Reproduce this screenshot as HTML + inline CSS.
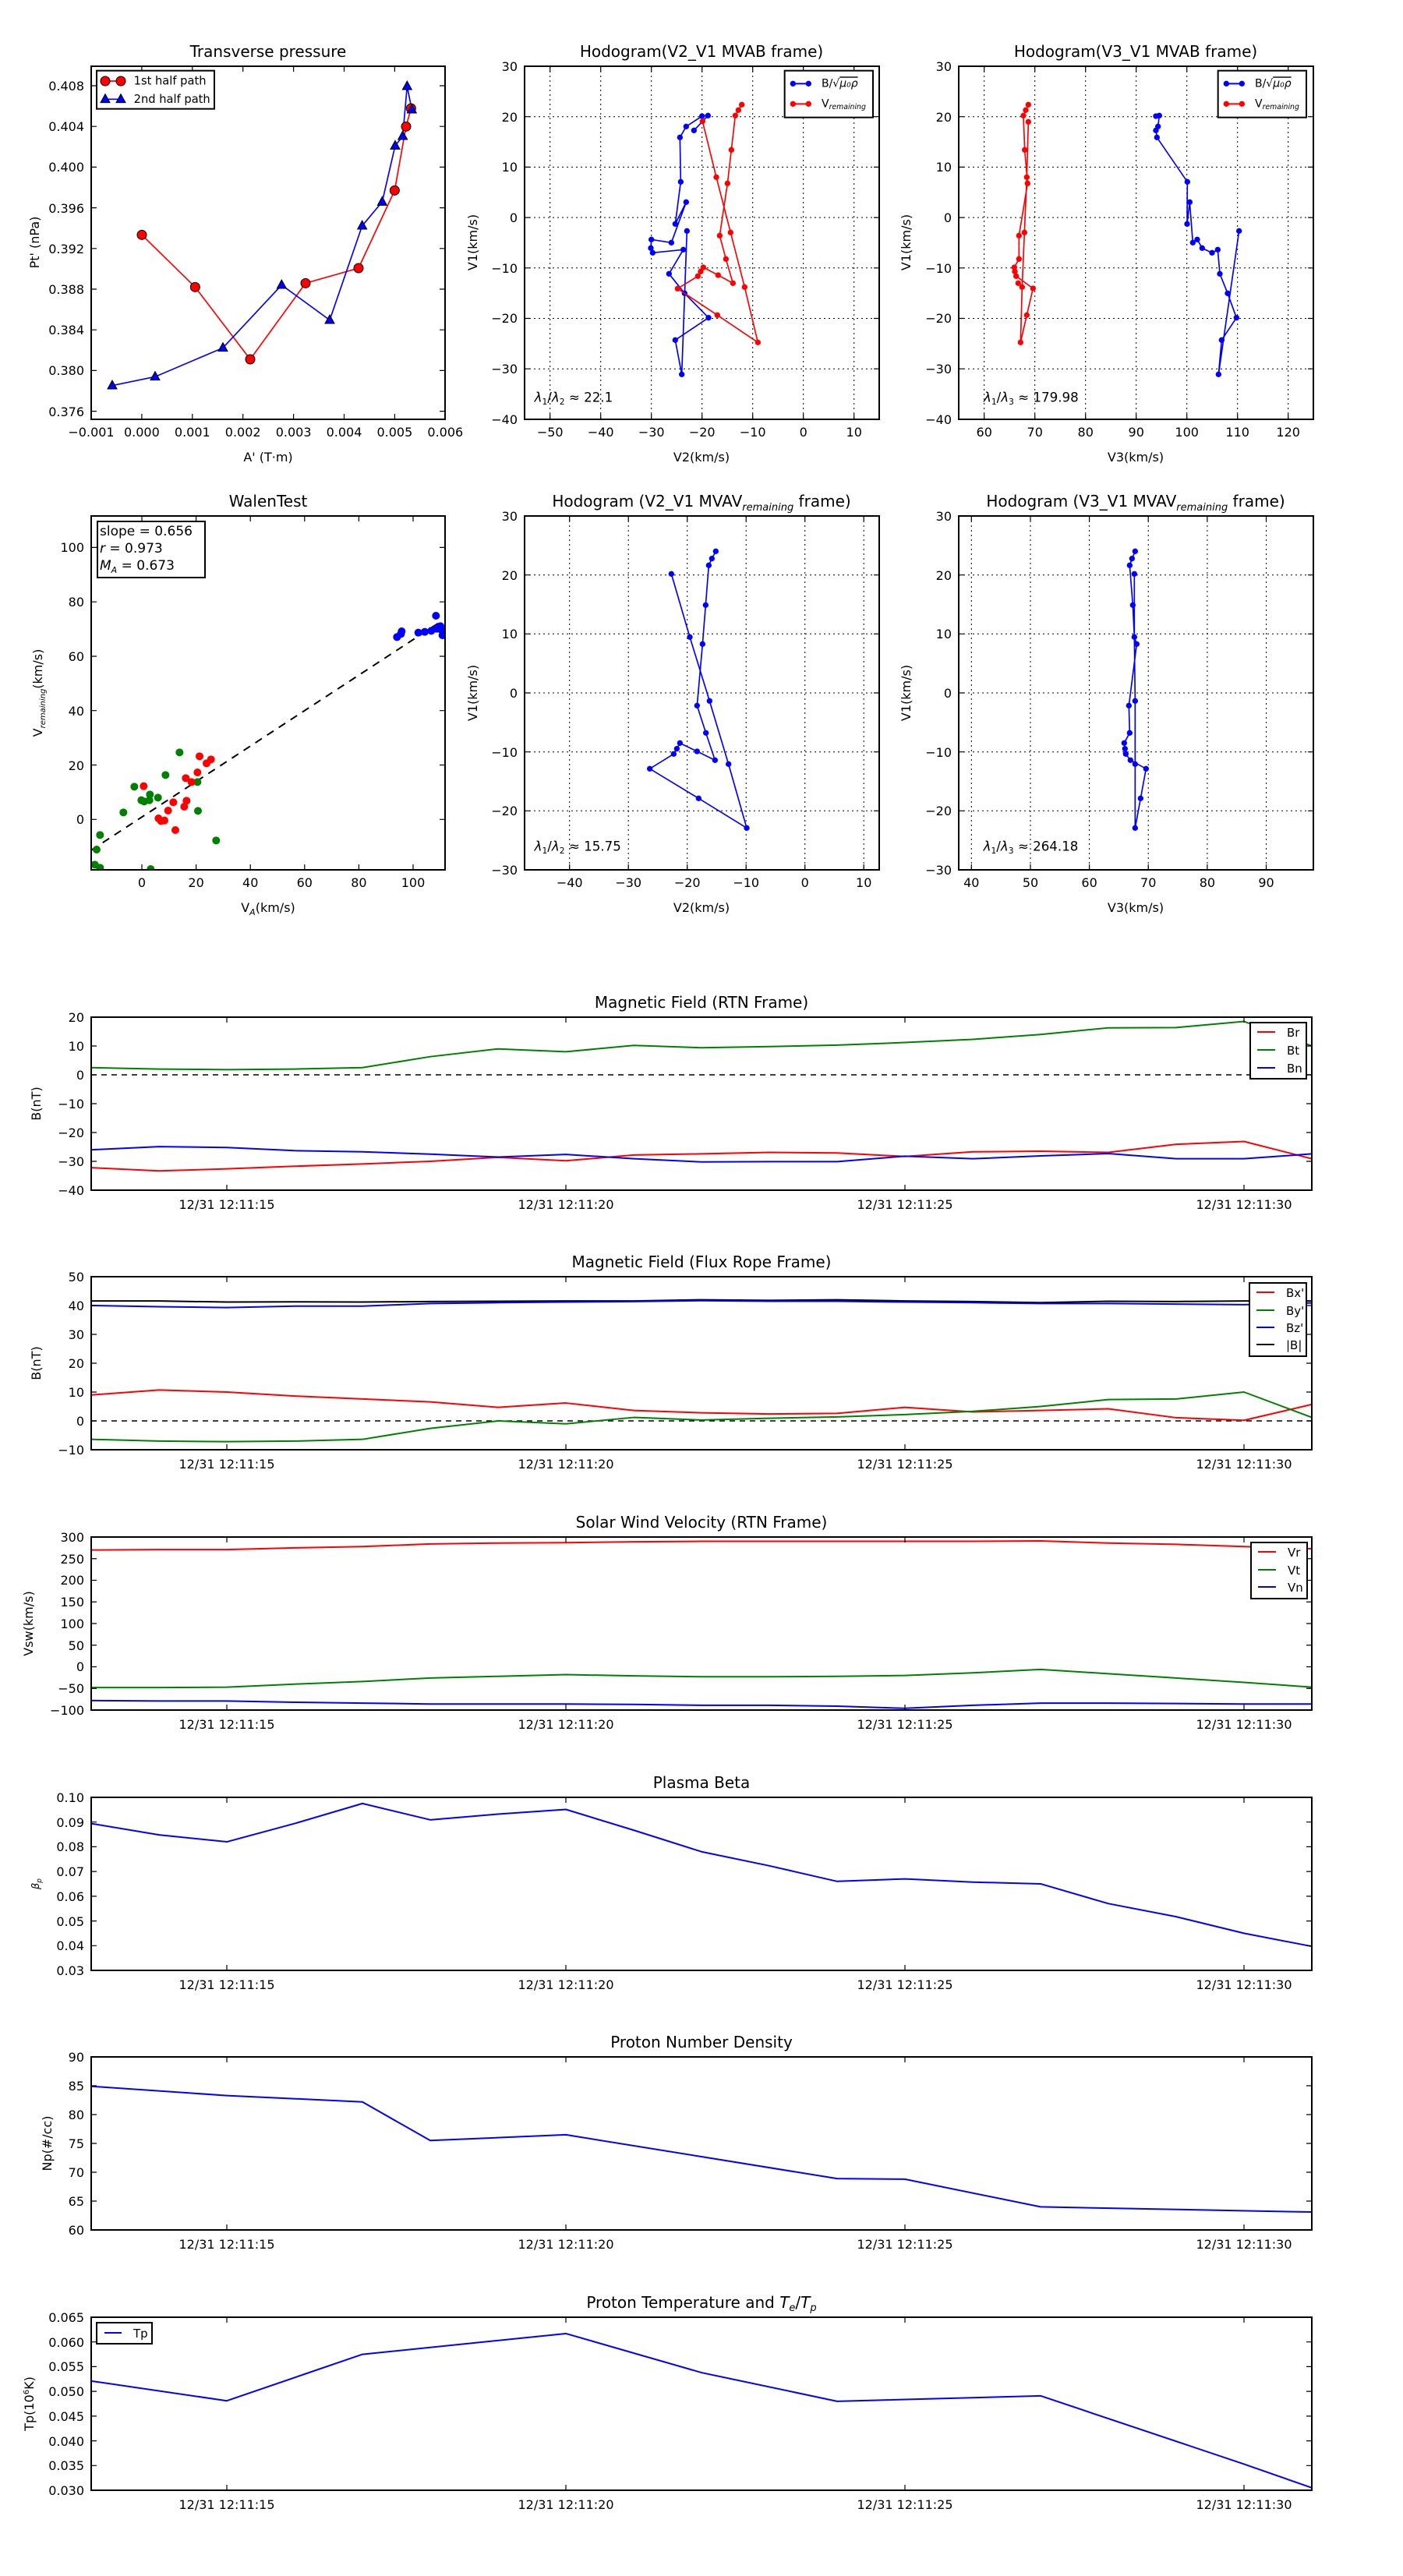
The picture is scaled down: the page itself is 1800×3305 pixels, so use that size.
<!DOCTYPE html>
<html><head><meta charset="utf-8"><style>
html,body{margin:0;padding:0;background:#fff;}
svg text{font-family:"DejaVu Sans","Liberation Sans",sans-serif;fill:#000;}
.t{font-size:16px;}
.ti{font-size:20px;text-anchor:middle;}
.yl{font-size:16px;text-anchor:end;}
.xl{font-size:16px;text-anchor:middle;}
.ln{fill:none;stroke-width:2;vector-effect:non-scaling-stroke;stroke-linejoin:round;}
.grid{stroke:#000;stroke-width:1;stroke-dasharray:2,4;fill:none;}
.ax{fill:none;stroke:#000;stroke-width:2;}
.tk{stroke:#000;stroke-width:1.2;fill:none;}
</style></head><body>
<svg width="1800" height="3300" viewBox="0 0 1800 3300" xmlns="http://www.w3.org/2000/svg">
<rect width="1800" height="3300" fill="#fff"/>

<!-- ============ ROW 1 PLOT 1: Transverse pressure ============ -->
<text class="ti" x="344" y="73">Transverse pressure</text>
<path class="tk" d="M181.9,538v-7M246.8,538v-7M311.7,538v-7M376.6,538v-7M441.5,538v-7M506.4,538v-7M181.9,85v7M246.8,85v7M311.7,85v7M376.6,85v7M441.5,85v7M506.4,85v7
M117,110h7M117,162.2h7M117,214.4h7M117,266.6h7M117,318.8h7M117,371h7M117,423.2h7M117,475.4h7M117,527.6h7
M571,110h-7M571,162.2h-7M571,214.4h-7M571,266.6h-7M571,318.8h-7M571,371h-7M571,423.2h-7M571,475.4h-7M571,527.6h-7"/>
<g class="yl">
<text x="108" y="116">0.408</text><text x="108" y="168">0.404</text><text x="108" y="220">0.400</text><text x="108" y="273">0.396</text><text x="108" y="325">0.392</text><text x="108" y="377">0.388</text><text x="108" y="429">0.384</text><text x="108" y="481">0.380</text><text x="108" y="534">0.376</text>
</g>
<g class="xl">
<text x="117" y="560">−0.001</text><text x="181.9" y="560">0.000</text><text x="246.8" y="560">0.001</text><text x="311.7" y="560">0.002</text><text x="376.6" y="560">0.003</text><text x="441.5" y="560">0.004</text><text x="506.4" y="560">0.005</text><text x="571.3" y="560">0.006</text>
</g>
<text class="xl" x="344" y="592">A' (T·m)</text>
<text class="t" transform="translate(50,311) rotate(-90)" text-anchor="middle">Pt' (nPa)</text>
<defs><path id="tri" d="M0,-20 L-18,13 L18,13Z"/></defs>
<g transform="translate(100,84) scale(0.33333)">
<polyline fill="none" stroke="#f00" stroke-width="5" points="246,652 451,853 663,1131 876,838 1080,780 1219,481 1263,235 1282,165"/>
<polyline fill="none" stroke="#00f" stroke-width="5" points="132,1232 297,1198 558,1087 784,845 969,980 1094,617 1171,525 1221,309 1250,272 1267,80 1285,170"/>
<g fill="#f00" stroke="#000" stroke-width="3">
<circle cx="246" cy="652" r="18"/><circle cx="451" cy="853" r="18"/><circle cx="663" cy="1131" r="18"/><circle cx="876" cy="838" r="18"/><circle cx="1080" cy="780" r="18"/><circle cx="1219" cy="481" r="18"/><circle cx="1263" cy="235" r="18"/><circle cx="1282" cy="165" r="18"/>
</g>
<g fill="#00f" stroke="#000" stroke-width="3">
<use href="#tri" x="132" y="1232"/><use href="#tri" x="297" y="1198"/><use href="#tri" x="558" y="1087"/><use href="#tri" x="784" y="845"/><use href="#tri" x="969" y="980"/><use href="#tri" x="1094" y="617"/><use href="#tri" x="1171" y="525"/><use href="#tri" x="1221" y="309"/><use href="#tri" x="1250" y="272"/><use href="#tri" x="1267" y="80"/><use href="#tri" x="1285" y="170"/>
</g>
<rect x="72" y="20" width="453" height="147" fill="#fff" stroke="#000" stroke-width="6"/>
<line x1="105" y1="60" x2="165" y2="60" stroke="#f00" stroke-width="5"/>
<circle cx="105" cy="60" r="18" fill="#f00" stroke="#000" stroke-width="3"/><circle cx="165" cy="60" r="18" fill="#f00" stroke="#000" stroke-width="3"/>
<line x1="105" y1="130" x2="165" y2="130" stroke="#00f" stroke-width="5"/>
<use href="#tri" x="105" y="130" fill="#00f" stroke="#000" stroke-width="3"/><use href="#tri" x="165" y="130" fill="#00f" stroke="#000" stroke-width="3"/>
<text x="215" y="74" style="font-size:44px">1st half path</text>
<text x="215" y="144" style="font-size:44px">2nd half path</text>
</g>
<rect class="ax" x="117" y="85" width="454" height="453"/>

<!-- ============ ROW 1 PLOT 2 ============ -->
<text class="ti" x="900" y="73">Hodogram(V2_V1 MVAB frame)</text>
<path class="grid" d="M705.7,85V538M770.7,85V538M835.7,85V538M900.7,85V538M965.7,85V538M1030.7,85V538M1095.7,85V538M673,149.7H1128M673,214.4H1128M673,279.1H1128M673,343.8H1128M673,408.5H1128M673,473.2H1128"/>
<path class="tk" d="M705.7,538v-7M770.7,538v-7M835.7,538v-7M900.7,538v-7M965.7,538v-7M1030.7,538v-7M1095.7,538v-7M705.7,85v7M770.7,85v7M835.7,85v7M900.7,85v7M965.7,85v7M1030.7,85v7M1095.7,85v7
M673,149.7h7M673,214.4h7M673,279.1h7M673,343.8h7M673,408.5h7M673,473.2h7M1128,149.7h-7M1128,214.4h-7M1128,279.1h-7M1128,343.8h-7M1128,408.5h-7M1128,473.2h-7"/>
<g class="yl">
<text x="664" y="91">30</text><text x="664" y="156">20</text><text x="664" y="220">10</text><text x="664" y="285">0</text><text x="664" y="350">−10</text><text x="664" y="414">−20</text><text x="664" y="479">−30</text><text x="664" y="544">−40</text>
</g>
<g class="xl">
<text x="705.7" y="560">−50</text><text x="770.7" y="560">−40</text><text x="835.7" y="560">−30</text><text x="900.7" y="560">−20</text><text x="965.7" y="560">−10</text><text x="1030.7" y="560">0</text><text x="1095.7" y="560">10</text>
</g>
<text class="xl" x="900" y="592">V2(km/s)</text>
<text class="t" transform="translate(612,311) rotate(-90)" text-anchor="middle">V1(km/s)</text>
<g transform="translate(679,84) scale(0.33333)">
<polyline fill="none" stroke="#00f" stroke-width="5" stroke-linejoin="round" points="634,250 688,193 665,195 604,235 580,277 583,448 562,610 604,526 547,682 470,670 468,703 475,721 593,709 538,802 598,877 690,971 562,1057 587,1189 607,637"/>
<g fill="#00f"><circle cx="634" cy="250" r="11"/><circle cx="688" cy="193" r="11"/><circle cx="665" cy="195" r="11"/><circle cx="604" cy="235" r="11"/><circle cx="580" cy="277" r="11"/><circle cx="583" cy="448" r="11"/><circle cx="562" cy="610" r="11"/><circle cx="604" cy="526" r="11"/><circle cx="547" cy="682" r="11"/><circle cx="470" cy="670" r="11"/><circle cx="468" cy="703" r="11"/><circle cx="475" cy="721" r="11"/><circle cx="593" cy="709" r="11"/><circle cx="538" cy="802" r="11"/><circle cx="598" cy="877" r="11"/><circle cx="690" cy="971" r="11"/><circle cx="562" cy="1057" r="11"/><circle cx="587" cy="1189" r="11"/><circle cx="607" cy="637" r="11"/></g>
<polyline fill="none" stroke="#f00" stroke-width="5" stroke-linejoin="round" points="818,151 805,172 793,193 778,325 763,454 733,655 757,745 784,838 727,807 670,777 660,793 649,811 571,859 724,961 880,1066 829,853 775,643 720,430 667,215"/>
<g fill="#f00"><circle cx="818" cy="151" r="11"/><circle cx="805" cy="172" r="11"/><circle cx="793" cy="193" r="11"/><circle cx="778" cy="325" r="11"/><circle cx="763" cy="454" r="11"/><circle cx="733" cy="655" r="11"/><circle cx="757" cy="745" r="11"/><circle cx="784" cy="838" r="11"/><circle cx="727" cy="807" r="11"/><circle cx="670" cy="777" r="11"/><circle cx="660" cy="793" r="11"/><circle cx="649" cy="811" r="11"/><circle cx="571" cy="859" r="11"/><circle cx="724" cy="961" r="11"/><circle cx="880" cy="1066" r="11"/><circle cx="829" cy="853" r="11"/><circle cx="775" cy="643" r="11"/><circle cx="720" cy="430" r="11"/><circle cx="667" cy="215" r="11"/></g>
<rect x="983" y="20" width="340" height="180" fill="#fff" stroke="#000" stroke-width="6"/>
<line x1="1015" y1="70" x2="1075" y2="70" stroke="#00f" stroke-width="6"/><circle cx="1015" cy="70" r="11" fill="#00f"/><circle cx="1075" cy="70" r="11" fill="#00f"/>
<line x1="1015" y1="148" x2="1075" y2="148" stroke="#f00" stroke-width="6"/><circle cx="1015" cy="148" r="11" fill="#f00"/><circle cx="1075" cy="148" r="11" fill="#f00"/>
<text x="1125" y="82" style="font-size:42px">B/√<tspan font-style="italic" text-decoration="overline">μ₀ρ</tspan></text>
<text x="1125" y="160" style="font-size:42px">V<tspan font-style="italic" style="font-size:28px" dy="8">remaining</tspan></text>
<text x="20" y="1295" style="font-size:50px"><tspan font-style="italic">λ</tspan><tspan style="font-size:32px" dy="10">1</tspan><tspan dy="-10">/</tspan><tspan font-style="italic">λ</tspan><tspan style="font-size:32px" dy="10">2</tspan><tspan dy="-10"> ≈ 22.1</tspan></text>
</g>
<rect class="ax" x="673" y="85" width="455" height="453"/>

<!-- ============ ROW 1 PLOT 3 ============ -->
<text class="ti" x="1457" y="73">Hodogram(V3_V1 MVAB frame)</text>
<path class="grid" d="M1262.7,85V538M1327.7,85V538M1392.7,85V538M1457.7,85V538M1522.7,85V538M1587.7,85V538M1652.7,85V538M1230,149.7H1685M1230,214.4H1685M1230,279.1H1685M1230,343.8H1685M1230,408.5H1685M1230,473.2H1685"/>
<path class="tk" d="M1262.7,538v-7M1327.7,538v-7M1392.7,538v-7M1457.7,538v-7M1522.7,538v-7M1587.7,538v-7M1652.7,538v-7M1262.7,85v7M1327.7,85v7M1392.7,85v7M1457.7,85v7M1522.7,85v7M1587.7,85v7M1652.7,85v7
M1230,149.7h7M1230,214.4h7M1230,279.1h7M1230,343.8h7M1230,408.5h7M1230,473.2h7M1685,149.7h-7M1685,214.4h-7M1685,279.1h-7M1685,343.8h-7M1685,408.5h-7M1685,473.2h-7"/>
<g class="yl">
<text x="1221" y="91">30</text><text x="1221" y="156">20</text><text x="1221" y="220">10</text><text x="1221" y="285">0</text><text x="1221" y="350">−10</text><text x="1221" y="414">−20</text><text x="1221" y="479">−30</text><text x="1221" y="544">−40</text>
</g>
<g class="xl">
<text x="1262.7" y="560">60</text><text x="1327.7" y="560">70</text><text x="1392.7" y="560">80</text><text x="1457.7" y="560">90</text><text x="1522.7" y="560">100</text><text x="1587.7" y="560">110</text><text x="1652.7" y="560">120</text>
</g>
<text class="xl" x="1457" y="592">V3(km/s)</text>
<text class="t" transform="translate(1168,311) rotate(-90)" text-anchor="middle">V1(km/s)</text>
<g transform="translate(1242,84) scale(0.33333)">
<polyline fill="none" stroke="#f00" stroke-width="5" stroke-linejoin="round" points="232,151 222,172 213,193 218,325 229,454 196,655 196,745 178,777 180,793 185,811 250,858 226,961 202,1066 208,853 217,643 226,430 232,217"/>
<g fill="#f00"><circle cx="232" cy="151" r="11"/><circle cx="222" cy="172" r="11"/><circle cx="213" cy="193" r="11"/><circle cx="218" cy="325" r="11"/><circle cx="229" cy="454" r="11"/><circle cx="196" cy="655" r="11"/><circle cx="196" cy="745" r="11"/><circle cx="178" cy="777" r="11"/><circle cx="180" cy="793" r="11"/><circle cx="185" cy="811" r="11"/><circle cx="193" cy="838" r="11"/><circle cx="250" cy="858" r="11"/><circle cx="226" cy="961" r="11"/><circle cx="202" cy="1066" r="11"/><circle cx="208" cy="853" r="11"/><circle cx="217" cy="643" r="11"/><circle cx="226" cy="430" r="11"/><circle cx="232" cy="217" r="11"/></g>
<polyline fill="none" stroke="#00f" stroke-width="5" stroke-linejoin="round" points="723,195 736,193 731,235 723,250 727,277 844,448 843,610 853,526 865,682 882,670 901,703 939,721 961,709 969,802 999,877 1033,971 976,1057 964,1189 1043,637"/>
<g fill="#00f"><circle cx="723" cy="195" r="11"/><circle cx="736" cy="193" r="11"/><circle cx="731" cy="235" r="11"/><circle cx="723" cy="250" r="11"/><circle cx="727" cy="277" r="11"/><circle cx="844" cy="448" r="11"/><circle cx="843" cy="610" r="11"/><circle cx="853" cy="526" r="11"/><circle cx="865" cy="682" r="11"/><circle cx="882" cy="670" r="11"/><circle cx="901" cy="703" r="11"/><circle cx="939" cy="721" r="11"/><circle cx="961" cy="709" r="11"/><circle cx="969" cy="802" r="11"/><circle cx="999" cy="877" r="11"/><circle cx="1033" cy="971" r="11"/><circle cx="976" cy="1057" r="11"/><circle cx="964" cy="1189" r="11"/><circle cx="1043" cy="637" r="11"/></g>
<rect x="962" y="20" width="340" height="180" fill="#fff" stroke="#000" stroke-width="6"/>
<line x1="994" y1="70" x2="1054" y2="70" stroke="#00f" stroke-width="6"/><circle cx="994" cy="70" r="11" fill="#00f"/><circle cx="1054" cy="70" r="11" fill="#00f"/>
<line x1="994" y1="148" x2="1054" y2="148" stroke="#f00" stroke-width="6"/><circle cx="994" cy="148" r="11" fill="#f00"/><circle cx="1054" cy="148" r="11" fill="#f00"/>
<text x="1104" y="82" style="font-size:42px">B/√<tspan font-style="italic" text-decoration="overline">μ₀ρ</tspan></text>
<text x="1104" y="160" style="font-size:42px">V<tspan font-style="italic" style="font-size:28px" dy="8">remaining</tspan></text>
<text x="60" y="1295" style="font-size:50px"><tspan font-style="italic">λ</tspan><tspan style="font-size:32px" dy="10">1</tspan><tspan dy="-10">/</tspan><tspan font-style="italic">λ</tspan><tspan style="font-size:32px" dy="10">3</tspan><tspan dy="-10"> ≈ 179.98</tspan></text>
</g>
<rect class="ax" x="1230" y="85" width="455" height="453"/>

<!-- ============ ROW 2 PLOT 1: Walen ============ -->
<text class="ti" x="344" y="650">WalenTest</text>
<path class="tk" d="M182,1116v-7M251.6,1116v-7M321.2,1116v-7M390.8,1116v-7M460.4,1116v-7M530,1116v-7M182,662v7M251.6,662v7M321.2,662v7M390.8,662v7M460.4,662v7M530,662v7
M117,1051.3h7M117,981.5h7M117,911.7h7M117,842h7M117,772.2h7M117,702.4h7M571,1051.3h-7M571,981.5h-7M571,911.7h-7M571,842h-7M571,772.2h-7M571,702.4h-7"/>
<g class="yl">
<text x="108" y="1057">0</text><text x="108" y="988">20</text><text x="108" y="918">40</text><text x="108" y="848">60</text><text x="108" y="778">80</text><text x="108" y="708">100</text>
</g>
<g class="xl">
<text x="182" y="1138">0</text><text x="251.6" y="1138">20</text><text x="321.2" y="1138">40</text><text x="390.8" y="1138">60</text><text x="460.4" y="1138">80</text><text x="530" y="1138">100</text>
</g>
<text class="xl" x="344" y="1170">V<tspan font-style="italic" style="font-size:11px" dy="4">A</tspan><tspan dy="-4">(km/s)</tspan></text>
<text class="t" transform="translate(54,889) rotate(-90)" text-anchor="middle">V<tspan font-style="italic" style="font-size:10px" dy="4">remaining</tspan><tspan dy="-4">(km/s)</tspan></text>
<svg x="117" y="662" width="454" height="454" overflow="hidden">
<g transform="translate(-17,-2) scale(0.33333)">
<line x1="50" y1="1293" x2="1400" y2="410" stroke="#000" stroke-width="6" stroke-dasharray="30,24"/>
<g fill="#008000"><circle cx="85" cy="1234" r="15"/><circle cx="72" cy="1290" r="15"/><circle cx="65" cy="1348" r="15"/><circle cx="85" cy="1360" r="15"/><circle cx="280" cy="1365" r="15"/><circle cx="175" cy="1147" r="15"/><circle cx="217" cy="1048" r="15"/><circle cx="244" cy="1100" r="15"/><circle cx="255" cy="1105" r="15"/><circle cx="277" cy="1078" r="15"/><circle cx="275" cy="1100" r="15"/><circle cx="308" cy="1090" r="15"/><circle cx="337" cy="1003" r="15"/><circle cx="391" cy="916" r="15"/><circle cx="460" cy="1030" r="15"/><circle cx="462" cy="1141" r="15"/><circle cx="532" cy="1255" r="15"/></g>
<g fill="#f00"><circle cx="253" cy="1046" r="15"/><circle cx="310" cy="1170" r="15"/><circle cx="320" cy="1180" r="15"/><circle cx="333" cy="1178" r="15"/><circle cx="347" cy="1140" r="15"/><circle cx="367" cy="1108" r="15"/><circle cx="375" cy="1215" r="15"/><circle cx="409" cy="1125" r="15"/><circle cx="418" cy="1102" r="15"/><circle cx="415" cy="1015" r="15"/><circle cx="437" cy="1030" r="15"/><circle cx="460" cy="993" r="15"/><circle cx="468" cy="931" r="15"/><circle cx="495" cy="958" r="15"/><circle cx="512" cy="943" r="15"/></g>
<g fill="#00f"><circle cx="1228" cy="472" r="15"/><circle cx="1243" cy="460" r="15"/><circle cx="1246" cy="450" r="15"/><circle cx="1310" cy="455" r="15"/><circle cx="1335" cy="452" r="15"/><circle cx="1360" cy="448" r="15"/><circle cx="1378" cy="390" r="15"/><circle cx="1380" cy="440" r="15"/><circle cx="1395" cy="430" r="15"/><circle cx="1403" cy="465" r="15"/><circle cx="1400" cy="445" r="15"/></g>
</g>
</svg>
<rect x="125" y="669" width="138" height="72" fill="#fff" stroke="#000" stroke-width="2"/>
<text x="128" y="687" style="font-size:17px">slope = 0.656</text>
<text x="128" y="709" style="font-size:17px"><tspan font-style="italic">r</tspan> = 0.973</text>
<text x="128" y="731" style="font-size:17px"><tspan font-style="italic">M</tspan><tspan font-style="italic" style="font-size:11px" dy="4">A</tspan><tspan dy="-4"> = 0.673</tspan></text>
<rect class="ax" x="117" y="662" width="454" height="454"/>

<!-- ============ ROW 2 PLOT 2 ============ -->
<text class="ti" x="900" y="650">Hodogram (V2_V1 MVAV<tspan font-style="italic" style="font-size:13px" dy="5">remaining</tspan><tspan dy="-5"> frame)</tspan></text>
<path class="grid" d="M730.7,662V1116M806.2,662V1116M881.7,662V1116M957.2,662V1116M1032.7,662V1116M1108.2,662V1116M673,737.7H1128M673,813.3H1128M673,889H1128M673,964.7H1128M673,1040.3H1128"/>
<path class="tk" d="M730.7,1116v-7M806.2,1116v-7M881.7,1116v-7M957.2,1116v-7M1032.7,1116v-7M1108.2,1116v-7M730.7,662v7M806.2,662v7M881.7,662v7M957.2,662v7M1032.7,662v7M1108.2,662v7
M673,737.7h7M673,813.3h7M673,889h7M673,964.7h7M673,1040.3h7M1128,737.7h-7M1128,813.3h-7M1128,889h-7M1128,964.7h-7M1128,1040.3h-7"/>
<g class="yl">
<text x="664" y="668">30</text><text x="664" y="744">20</text><text x="664" y="819">10</text><text x="664" y="895">0</text><text x="664" y="971">−10</text><text x="664" y="1046">−20</text><text x="664" y="1122">−30</text>
</g>
<g class="xl">
<text x="730.7" y="1138">−40</text><text x="806.2" y="1138">−30</text><text x="881.7" y="1138">−20</text><text x="957.2" y="1138">−10</text><text x="1032.7" y="1138">0</text><text x="1108.2" y="1138">10</text>
</g>
<text class="xl" x="900" y="1170">V2(km/s)</text>
<text class="t" transform="translate(612,889) rotate(-90)" text-anchor="middle">V1(km/s)</text>
<g transform="translate(673,660) scale(0.33333)">
<polyline fill="none" stroke="#00f" stroke-width="5" stroke-linejoin="round" points="565,229 636,472 712,718 785,961 855,1207 670,1093 482,979 574,922 586,902 598,880 664,912 733,946 698,841 664,736 685,499 697,349 709,196 721,170 736,142"/>
<g fill="#00f"><circle cx="565" cy="229" r="11"/><circle cx="636" cy="472" r="11"/><circle cx="712" cy="718" r="11"/><circle cx="785" cy="961" r="11"/><circle cx="855" cy="1207" r="11"/><circle cx="670" cy="1093" r="11"/><circle cx="482" cy="979" r="11"/><circle cx="574" cy="922" r="11"/><circle cx="586" cy="902" r="11"/><circle cx="598" cy="880" r="11"/><circle cx="664" cy="912" r="11"/><circle cx="733" cy="946" r="11"/><circle cx="698" cy="841" r="11"/><circle cx="664" cy="736" r="11"/><circle cx="685" cy="499" r="11"/><circle cx="697" cy="349" r="11"/><circle cx="709" cy="196" r="11"/><circle cx="721" cy="170" r="11"/><circle cx="736" cy="142" r="11"/></g>
<text x="38" y="1295" style="font-size:50px"><tspan font-style="italic">λ</tspan><tspan style="font-size:32px" dy="10">1</tspan><tspan dy="-10">/</tspan><tspan font-style="italic">λ</tspan><tspan style="font-size:32px" dy="10">2</tspan><tspan dy="-10"> ≈ 15.75</tspan></text>
</g>
<rect class="ax" x="673" y="662" width="455" height="454"/>

<!-- ============ ROW 2 PLOT 3 ============ -->
<text class="ti" x="1457" y="650">Hodogram (V3_V1 MVAV<tspan font-style="italic" style="font-size:13px" dy="5">remaining</tspan><tspan dy="-5"> frame)</tspan></text>
<path class="grid" d="M1246.3,662V1116M1322,662V1116M1397.6,662V1116M1473.2,662V1116M1548.9,662V1116M1624.5,662V1116M1230,737.7H1685M1230,813.3H1685M1230,889H1685M1230,964.7H1685M1230,1040.3H1685"/>
<path class="tk" d="M1246.3,1116v-7M1322,1116v-7M1397.6,1116v-7M1473.2,1116v-7M1548.9,1116v-7M1624.5,1116v-7M1246.3,662v7M1322,662v7M1397.6,662v7M1473.2,662v7M1548.9,662v7M1624.5,662v7
M1230,737.7h7M1230,813.3h7M1230,889h7M1230,964.7h7M1230,1040.3h7M1685,737.7h-7M1685,813.3h-7M1685,889h-7M1685,964.7h-7M1685,1040.3h-7"/>
<g class="yl">
<text x="1221" y="668">30</text><text x="1221" y="744">20</text><text x="1221" y="819">10</text><text x="1221" y="895">0</text><text x="1221" y="971">−10</text><text x="1221" y="1046">−20</text><text x="1221" y="1122">−30</text>
</g>
<g class="xl">
<text x="1246.3" y="1138">40</text><text x="1322" y="1138">50</text><text x="1397.6" y="1138">60</text><text x="1473.2" y="1138">70</text><text x="1548.9" y="1138">80</text><text x="1624.5" y="1138">90</text>
</g>
<text class="xl" x="1457" y="1170">V3(km/s)</text>
<text class="t" transform="translate(1168,889) rotate(-90)" text-anchor="middle">V1(km/s)</text>
<g transform="translate(1230,660) scale(0.33333)">
<polyline fill="none" stroke="#00f" stroke-width="5" stroke-linejoin="round" points="679,142 667,170 658,196 670,349 676,472 685,499 655,736 658,841 637,880 640,902 643,922 661,946 721,979 700,1093 679,1207 679,961 679,718 676,472 676,229"/>
<g fill="#00f"><circle cx="679" cy="142" r="11"/><circle cx="667" cy="170" r="11"/><circle cx="658" cy="196" r="11"/><circle cx="676" cy="229" r="11"/><circle cx="670" cy="349" r="11"/><circle cx="676" cy="472" r="11"/><circle cx="685" cy="499" r="11"/><circle cx="655" cy="736" r="11"/><circle cx="679" cy="718" r="11"/><circle cx="658" cy="841" r="11"/><circle cx="637" cy="880" r="11"/><circle cx="640" cy="902" r="11"/><circle cx="643" cy="922" r="11"/><circle cx="661" cy="946" r="11"/><circle cx="679" cy="961" r="11"/><circle cx="721" cy="979" r="11"/><circle cx="700" cy="1093" r="11"/><circle cx="679" cy="1207" r="11"/></g>
<text x="95" y="1295" style="font-size:50px"><tspan font-style="italic">λ</tspan><tspan style="font-size:32px" dy="10">1</tspan><tspan dy="-10">/</tspan><tspan font-style="italic">λ</tspan><tspan style="font-size:32px" dy="10">3</tspan><tspan dy="-10"> ≈ 264.18</tspan></text>
</g>
<rect class="ax" x="1230" y="662" width="455" height="454"/>

<!-- ============ TIME SERIES ============ -->
<!-- common x tick labels -->
<g class="xl">
<text x="291" y="1551">12/31 12:11:15</text><text x="726" y="1551">12/31 12:11:20</text><text x="1161" y="1551">12/31 12:11:25</text><text x="1596" y="1551">12/31 12:11:30</text>
<text x="291" y="1884">12/31 12:11:15</text><text x="726" y="1884">12/31 12:11:20</text><text x="1161" y="1884">12/31 12:11:25</text><text x="1596" y="1884">12/31 12:11:30</text>
<text x="291" y="2218">12/31 12:11:15</text><text x="726" y="2218">12/31 12:11:20</text><text x="1161" y="2218">12/31 12:11:25</text><text x="1596" y="2218">12/31 12:11:30</text>
<text x="291" y="2552">12/31 12:11:15</text><text x="726" y="2552">12/31 12:11:20</text><text x="1161" y="2552">12/31 12:11:25</text><text x="1596" y="2552">12/31 12:11:30</text>
<text x="291" y="2885">12/31 12:11:15</text><text x="726" y="2885">12/31 12:11:20</text><text x="1161" y="2885">12/31 12:11:25</text><text x="1596" y="2885">12/31 12:11:30</text>
<text x="291" y="3219">12/31 12:11:15</text><text x="726" y="3219">12/31 12:11:20</text><text x="1161" y="3219">12/31 12:11:25</text><text x="1596" y="3219">12/31 12:11:30</text>
</g>

<!-- Panel 1: MF RTN -->
<text class="ti" x="900" y="1293">Magnetic Field (RTN Frame)</text>
<line x1="117" y1="1379" x2="1683" y2="1379" stroke="#000" stroke-width="1.5" stroke-dasharray="7,6"/>
<g transform="translate(117,1379) scale(87,-3.7)">
<polyline class="ln" stroke="#f00" points="0,-32.2 1,-33.3 2,-32.6 3,-31.7 4,-30.9 5,-30 6,-28.6 7,-29.8 8,-27.8 9,-27.4 10,-26.9 11,-27.1 12,-28.3 13,-26.7 14,-26.5 15,-26.9 16,-24.1 17,-23.1 18,-29.1"/>
<polyline class="ln" stroke="#008000" points="0,2.5 1,2 2,1.8 3,2 4,2.5 5,6.3 6,9 7,8 8,10.2 9,9.4 10,9.8 11,10.3 12,11.2 13,12.3 14,14 15,16.3 16,16.4 17,18.5 18,10"/>
<polyline class="ln" stroke="#00f" points="0,-26 1,-24.9 2,-25.2 3,-26.3 4,-26.7 5,-27.5 6,-28.5 7,-27.6 8,-29.1 9,-30.2 10,-30.1 11,-30.1 12,-28.2 13,-29.1 14,-28.1 15,-27.3 16,-29.1 17,-29.1 18,-27.4"/>
</g>
<path class="tk" d="M291,1527v-7M726,1527v-7M1161,1527v-7M1596,1527v-7M291,1305v7M726,1305v7M1161,1305v7M1596,1305v7
M117,1342h7M117,1379h7M117,1416h7M117,1453h7M117,1490h7M1683,1342h-7M1683,1379h-7M1683,1416h-7M1683,1453h-7M1683,1490h-7"/>
<g class="yl"><text x="108" y="1311">20</text><text x="108" y="1348">10</text><text x="108" y="1385">0</text><text x="108" y="1422">−10</text><text x="108" y="1459">−20</text><text x="108" y="1496">−30</text><text x="108" y="1533">−40</text></g>
<text class="t" transform="translate(52,1416) rotate(-90)" text-anchor="middle">B(nT)</text>
<rect x="1604" y="1312" width="72" height="72" fill="#fff" stroke="#000" stroke-width="2"/>
<line x1="1613" y1="1324" x2="1636" y2="1324" stroke="#f00" stroke-width="2"/><text x="1651" y="1330" style="font-size:15px">Br</text>
<line x1="1613" y1="1347" x2="1636" y2="1347" stroke="#008000" stroke-width="2"/><text x="1651" y="1353" style="font-size:15px">Bt</text>
<line x1="1613" y1="1370" x2="1636" y2="1370" stroke="#00f" stroke-width="2"/><text x="1651" y="1376" style="font-size:15px">Bn</text>
<rect class="ax" x="117" y="1305" width="1566" height="222"/>

<!-- Panel 2: Flux rope -->
<text class="ti" x="900" y="1626">Magnetic Field (Flux Rope Frame)</text>
<line x1="117" y1="1823" x2="1683" y2="1823" stroke="#000" stroke-width="1.5" stroke-dasharray="7,6"/>
<g transform="translate(117,1823) scale(87,-3.7)">
<polyline class="ln" stroke="#000" points="0,41.6 1,41.6 2,41.2 3,41.3 4,41.2 5,41.4 6,41.5 7,41.6 8,41.6 9,42 10,41.8 11,42 12,41.6 13,41.4 14,41 15,41.5 16,41.4 17,41.6 18,41.6"/>
<polyline class="ln" stroke="#00f" points="0,40 1,39.6 2,39.3 3,39.8 4,39.8 5,40.7 6,41 7,41.2 8,41.4 9,41.7 10,41.5 11,41.5 12,41.2 13,41 14,40.7 15,40.7 16,40.5 17,40.3 18,40.9"/>
<polyline class="ln" stroke="#f00" points="0,9 1,10.7 2,10 3,8.6 4,7.6 5,6.6 6,4.7 7,6.2 8,3.6 9,2.8 10,2.4 11,2.6 12,4.7 13,3.1 14,3.6 15,4.2 16,1.1 17,0.2 18,5.7"/>
<polyline class="ln" stroke="#008000" points="0,-6.4 1,-7 2,-7.2 3,-7 4,-6.4 5,-2.6 6,0 7,-1 8,1.2 9,0.3 10,0.9 11,1.4 12,2.2 13,3.3 14,5 15,7.4 16,7.6 17,10 18,1.2"/>
</g>
<path class="tk" d="M291,1860v-7M726,1860v-7M1161,1860v-7M1596,1860v-7M291,1638v7M726,1638v7M1161,1638v7M1596,1638v7
M117,1675h7M117,1712h7M117,1749h7M117,1786h7M117,1823h7M1683,1675h-7M1683,1712h-7M1683,1749h-7M1683,1786h-7M1683,1823h-7"/>
<g class="yl"><text x="108" y="1644">50</text><text x="108" y="1681">40</text><text x="108" y="1718">30</text><text x="108" y="1755">20</text><text x="108" y="1792">10</text><text x="108" y="1829">0</text><text x="108" y="1866">−10</text></g>
<text class="t" transform="translate(52,1749) rotate(-90)" text-anchor="middle">B(nT)</text>
<rect x="1603" y="1646" width="73" height="94" fill="#fff" stroke="#000" stroke-width="2"/>
<line x1="1612" y1="1658" x2="1635" y2="1658" stroke="#f00" stroke-width="2"/><text x="1650" y="1664" style="font-size:15px">Bx'</text>
<line x1="1612" y1="1681" x2="1635" y2="1681" stroke="#008000" stroke-width="2"/><text x="1650" y="1687" style="font-size:15px">By'</text>
<line x1="1612" y1="1703" x2="1635" y2="1703" stroke="#00f" stroke-width="2"/><text x="1650" y="1709" style="font-size:15px">Bz'</text>
<line x1="1612" y1="1725" x2="1635" y2="1725" stroke="#000" stroke-width="2"/><text x="1650" y="1731" style="font-size:15px">|B|</text>
<rect class="ax" x="117" y="1638" width="1566" height="222"/>

<!-- Panel 3: Velocity -->
<text class="ti" x="900" y="1960">Solar Wind Velocity (RTN Frame)</text>
<g transform="translate(117,2138.5) scale(87,-0.555)">
<polyline class="ln" stroke="#f00" points="0,270 1,271 2,271 3,275 4,278 5,284 6,286 7,287 8,289 9,290 10,290 11,290 12,290 13,290 14,291 15,286 16,283 17,278 18,273"/>
<polyline class="ln" stroke="#008000" points="0,-48 1,-48 2,-47 3,-40 4,-34 5,-26 6,-22 7,-18 8,-21 9,-23 10,-23 11,-22 12,-20 13,-14 14,-6 15,-16 16,-26 17,-36 18,-47"/>
<polyline class="ln" stroke="#00f" points="0,-78 1,-79 2,-79 3,-82 4,-84 5,-86 6,-86 7,-86 8,-87 9,-89 10,-89 11,-91 12,-96 13,-89 14,-84 15,-84 16,-85 17,-86 18,-86"/>
</g>
<path class="tk" d="M291,2194v-7M726,2194v-7M1161,2194v-7M1596,2194v-7M291,1972v7M726,1972v7M1161,1972v7M1596,1972v7
M117,1999.75h7M117,2027.5h7M117,2055.25h7M117,2083h7M117,2110.75h7M117,2138.5h7M117,2166.25h7M1683,1999.75h-7M1683,2027.5h-7M1683,2055.25h-7M1683,2083h-7M1683,2110.75h-7M1683,2138.5h-7M1683,2166.25h-7"/>
<g class="yl"><text x="108" y="1978">300</text><text x="108" y="2006">250</text><text x="108" y="2033">200</text><text x="108" y="2061">150</text><text x="108" y="2089">100</text><text x="108" y="2117">50</text><text x="108" y="2144">0</text><text x="108" y="2172">−50</text><text x="108" y="2200">−100</text></g>
<text class="t" transform="translate(42,2083) rotate(-90)" text-anchor="middle">Vsw(km/s)</text>
<rect x="1605" y="1979" width="72" height="72" fill="#fff" stroke="#000" stroke-width="2"/>
<line x1="1614" y1="1991" x2="1637" y2="1991" stroke="#f00" stroke-width="2"/><text x="1652" y="1997" style="font-size:15px">Vr</text>
<line x1="1614" y1="2014" x2="1637" y2="2014" stroke="#008000" stroke-width="2"/><text x="1652" y="2020" style="font-size:15px">Vt</text>
<line x1="1614" y1="2036" x2="1637" y2="2036" stroke="#00f" stroke-width="2"/><text x="1652" y="2042" style="font-size:15px">Vn</text>
<rect class="ax" x="117" y="1972" width="1566" height="222"/>

<!-- Panel 4: Beta -->
<text class="ti" x="900" y="2294">Plasma Beta</text>
<g transform="translate(117,2623.1) scale(87,-3171.4)">
<polyline class="ln" stroke="#00f" points="0,0.0894 1,0.0848 2,0.082 3,0.0894 4,0.0975 5,0.0909 6,0.0932 7,0.0951 8,0.0867 9,0.078 10,0.0723 11,0.066 12,0.067 13,0.0657 14,0.065 15,0.057 16,0.0517 17,0.045 18,0.0397"/>
</g>
<path class="tk" d="M291,2528v-7M726,2528v-7M1161,2528v-7M1596,2528v-7M291,2306v7M726,2306v7M1161,2306v7M1596,2306v7
M117,2337.7h7M117,2369.4h7M117,2401.1h7M117,2432.9h7M117,2464.6h7M117,2496.3h7M1683,2337.7h-7M1683,2369.4h-7M1683,2401.1h-7M1683,2432.9h-7M1683,2464.6h-7M1683,2496.3h-7"/>
<g class="yl"><text x="108" y="2312">0.10</text><text x="108" y="2344">0.09</text><text x="108" y="2375">0.08</text><text x="108" y="2407">0.07</text><text x="108" y="2439">0.06</text><text x="108" y="2471">0.05</text><text x="108" y="2502">0.04</text><text x="108" y="2534">0.03</text></g>
<text transform="translate(50,2417) rotate(-90)" text-anchor="middle" style="font-size:13px"><tspan font-style="italic">β</tspan><tspan font-style="italic" style="font-size:9px" dy="3">p</tspan></text>
<rect class="ax" x="117" y="2306" width="1566" height="222"/>

<!-- Panel 5: Density -->
<text class="ti" x="900" y="2627">Proton Number Density</text>
<g transform="translate(117,3305) scale(87,-7.4)">
<polyline class="ln" stroke="#00f" points="0,84.9 2,83.3 4,82.2 5,75.5 7,76.5 9,72.7 11,68.9 12,68.8 14,64 18,63.1"/>
</g>
<path class="tk" d="M291,2861v-7M726,2861v-7M1161,2861v-7M1596,2861v-7M291,2639v7M726,2639v7M1161,2639v7M1596,2639v7
M117,2676h7M117,2713h7M117,2750h7M117,2787h7M117,2824h7M1683,2676h-7M1683,2713h-7M1683,2750h-7M1683,2787h-7M1683,2824h-7"/>
<g class="yl"><text x="108" y="2645">90</text><text x="108" y="2682">85</text><text x="108" y="2719">80</text><text x="108" y="2756">75</text><text x="108" y="2793">70</text><text x="108" y="2830">65</text><text x="108" y="2867">60</text></g>
<text class="t" transform="translate(66,2750) rotate(-90)" text-anchor="middle">Np(#/cc)</text>
<rect class="ax" x="117" y="2639" width="1566" height="222"/>

<!-- Panel 6: Temperature -->
<text class="ti" x="900" y="2961">Proton Temperature and <tspan font-style="italic">T</tspan><tspan font-style="italic" style="font-size:13px" dy="4">e</tspan><tspan dy="-4">/</tspan><tspan font-style="italic">T</tspan><tspan font-style="italic" style="font-size:13px" dy="4">p</tspan></text>
<g transform="translate(117,3385.3) scale(87,-6342.9)">
<polyline class="ln" stroke="#00f" points="0,0.0521 2,0.0481 4,0.0575 7,0.0617 9,0.0538 11,0.048 14,0.0491 17,0.0353 18,0.0305"/>
</g>
<path class="tk" d="M291,3195v-7M726,3195v-7M1161,3195v-7M1596,3195v-7M291,2973v7M726,2973v7M1161,2973v7M1596,2973v7
M117,3004.7h7M117,3036.4h7M117,3068.1h7M117,3099.9h7M117,3131.6h7M117,3163.3h7M1683,3004.7h-7M1683,3036.4h-7M1683,3068.1h-7M1683,3099.9h-7M1683,3131.6h-7M1683,3163.3h-7"/>
<g class="yl"><text x="108" y="2979">0.065</text><text x="108" y="3011">0.060</text><text x="108" y="3042">0.055</text><text x="108" y="3074">0.050</text><text x="108" y="3106">0.045</text><text x="108" y="3138">0.040</text><text x="108" y="3169">0.035</text><text x="108" y="3201">0.030</text></g>
<text class="t" transform="translate(43,3084) rotate(-90)" text-anchor="middle">Tp(10<tspan style="font-size:10px" dy="-6">6</tspan><tspan dy="6">K)</tspan></text>
<rect x="124" y="2980" width="71" height="27" fill="#fff" stroke="#000" stroke-width="2"/>
<line x1="134" y1="2993" x2="156" y2="2993" stroke="#00f" stroke-width="2"/><text x="171" y="2999" style="font-size:15px">Tp</text>
<rect class="ax" x="117" y="2973" width="1566" height="222"/>
</svg>
</body></html>
